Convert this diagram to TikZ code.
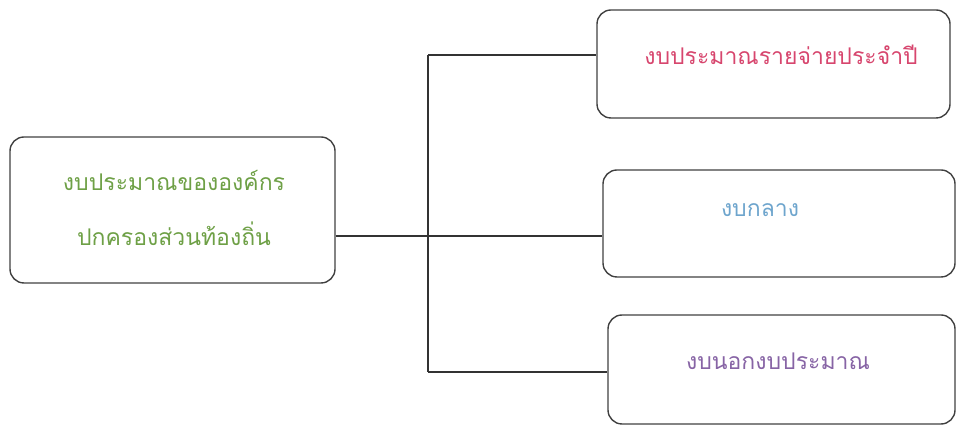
\documentclass[tikz,border=0pt]{standalone}
\usepackage{fontspec}
\newfontfamily\thaifont[Script=Thai]{Loma}
\usetikzlibrary{positioning}
\definecolor{leafgreen}{RGB}{110,160,70}
\definecolor{rosered}{RGB}{215,70,110}
\definecolor{skyblue}{RGB}{110,165,205}
\definecolor{plum}{RGB}{135,100,165}
\begin{document}
\begin{tikzpicture}[x=1pt, y=1pt,
  box/.style={draw=black!75, line width=1.4pt, rounded corners=14pt},
  lbl/.style={font=\thaifont\fontsize{23}{55}\selectfont, align=center},
  link/.style={draw=black!80, line width=1.1pt}]
\useasboundingbox (0,0) rectangle (957,427);
% boxes
\node[box, minimum width=325, minimum height=146] (local) at (172.5,217) {};
\node[box, minimum width=353, minimum height=108] (annual) at (773.5,363) {};
\node[box, minimum width=352, minimum height=107] (central) at (779,203.5) {};
\node[box, minimum width=347, minimum height=109] (extra) at (781.5,57.5) {};
% texts
\node[lbl, text=leafgreen] (localtext) at (174,219) {งบประมาณขององค์กร\\ปกครองส่วนท้องถิ่น};
\node[lbl, text=rosered] (annualtext) at (781,372) {งบประมาณรายจ่ายประจำปี};
\node[lbl, text=skyblue] (centraltext) at (760,217) {งบกลาง};
\node[lbl, text=plum] (extratext) at (778,66) {งบนอกงบประมาณ};
% connectors
\path (428,372) coordinate (trunktop) (428,191) coordinate (trunkmid) (428,55) coordinate (trunkbot);
\draw[link] (trunktop) -- (trunkbot);
\draw[link] (trunktop) -- (trunktop -| annual.west);
\draw[link] (trunkbot) -- (trunkbot -| extra.west);
\draw[link] (trunkmid -| local.east) -- (trunkmid -| central.west);
\end{tikzpicture}
\end{document}
